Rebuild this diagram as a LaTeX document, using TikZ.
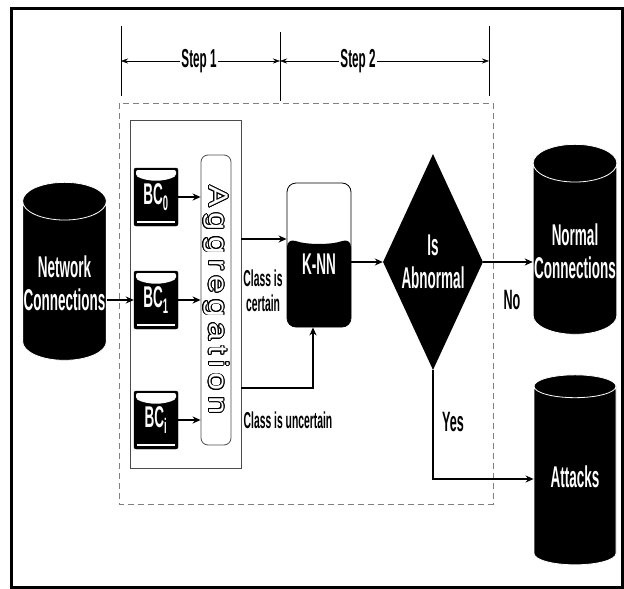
\documentclass[tikz,border=0pt]{standalone}
\usepackage{fontspec}
\setmainfont{Liberation Sans}[FakeStretch=0.45]
\newfontfamily\aggfont{Liberation Sans}[FakeStretch=1.2,LetterSpace=20]
\usepackage{contour}
\contourlength{0.8pt}
\usetikzlibrary{shapes.geometric,positioning,arrows.meta}

\begin{document}
\begin{tikzpicture}[x=1pt,y=-1pt,>={Stealth[length=7pt,width=5pt]},
      lbl/.style={font=\bfseries\fontsize{23}{25}\selectfont,align=center,inner sep=1pt},
      big/.style={font=\bfseries\fontsize{28}{32}\selectfont,inner sep=1pt},
      flow/.style={-{Stealth[length=8pt,width=7pt]},line width=2.2pt},
      dbase/.style={cylinder,shape border rotate=90,aspect=0.45,draw=white,thick,
        fill=black,text=white,font=\bfseries\fontsize{30}{33}\selectfont,align=center,
        inner sep=1pt,minimum width=82,minimum height=190},
      bcbox/.style={draw,fill=black,text=white,big,font=\bfseries\fontsize{30}{32}\selectfont,
        rounded corners=2pt,minimum width=44,minimum height=58,
        path picture={
          \fill[white] ([shift={(2,2)}]path picture bounding box.north west) rectangle
            ([shift={(-2,8)}]path picture bounding box.north east);
          \fill[white] ([shift={(2,8)}]path picture bounding box.north west)
            .. controls +(12,6) and +(-12,6) .. ([shift={(-2,8)}]path picture bounding box.north east) -- cycle;
          \draw[white,line width=1.2pt] ([shift={(3,-4)}]path picture bounding box.south west) --
            ([shift={(-3,-4)}]path picture bounding box.south east);}},
      aggbox/.style={draw=black!70,thick,rounded corners=7pt,minimum width=30,minimum height=290,inner sep=0pt},
      knnbox/.style={draw,thick,rounded corners=9pt,text=white,big,font=\bfseries\fontsize{30}{32}\selectfont,
        minimum width=64,minimum height=144,
        path picture={
          \fill[black] ([shift={(0,55)}]path picture bounding box.north west)
            .. controls +(20,7) and +(-20,7) .. ([shift={(0,55)}]path picture bounding box.north east)
            -- (path picture bounding box.south east) -- (path picture bounding box.south west) -- cycle;}},
      decide/.style={diamond,fill=black,text=white,big,font=\bfseries\fontsize{30}{33}\selectfont,
        align=center,aspect=0.46,inner sep=0pt,minimum width=100,minimum height=216}]

  \useasboundingbox (0,0) rectangle (624,589);
  \draw[line width=3pt] (11,8) rectangle (622,587);

  % steps
  \coordinate (s1) at (121,26);
  \coordinate (s2) at (280,32);
  \coordinate (s3) at (489,26);
  \draw[thick] (s1) -- ++(0,70) (s2) -- ++(0,69) (s3) -- ++(0,70);
  \node[big,font=\bfseries\fontsize{26}{28}\selectfont] (st1) at (199,61) {Step 1};
  \node[big,font=\bfseries\fontsize{26}{28}\selectfont] (st2) at (358,61) {Step 2};
  \draw[->] (st1) -- (st1 -| s1);
  \draw[->] (st1) -- (st1 -| s2);
  \draw[->] (st2) -- (st2 -| s2);
  \draw[->] (st2) -- (st2 -| s3);
  \draw[gray,thick,dash pattern=on 6pt off 4pt] (119,103) rectangle (493,504);

  % step 1
  \node[draw=black!70,thick,minimum width=111,minimum height=348] (step1box) at (185.5,294) {};
  \node[bcbox] (bc0) at (156,197) {BC\textsubscript{0}};
  \node[bcbox] (bc1) at (156,300) {BC\textsubscript{1}};
  \node[bcbox] (bci) at (156,420) {BC\textsubscript{i}};
  \node[aggbox] (agg) at (216,300) {\rotatebox{-90}{\aggfont\fontsize{27}{27}\selectfont\contour{black}{\textcolor{white}{Aggregation}}}};

  % step 2
  \node[knnbox] (knn) at (319,255) {\raisebox{-9pt}[\height][\depth]{K-NN}};
  \node[decide] (abn) at (433,262) {Is\\Abnormal};

  % data
  \node[dbase,minimum height=178] (net) at (64.5,283) {Network\\Connections};
  \node[dbase] (normal) at (575,251) {Normal\\Connections};
  \node[dbase] (att) at (575,477) {Attacks};

  % labels
  \node[lbl] (certain) at (263,291) {Class is\\certain};
  \node[lbl] (uncertain) at (288,420) {Class is uncertain};
  \node[big] (no) at (512,300) {No};
  \node[big] (yes) at (453,422) {Yes};

  % connections
  \coordinate (cert) at (step1box.east |- 0,239);
  \coordinate (uncert) at (step1box.east |- 0,388);
  \coordinate (yesend) at (att.west |- 0,479);
  \draw[flow] (bc1.west -| net.east) -- (bc1.west);
  \foreach \b in {bc0,bc1,bci}
    \draw[flow] (\b.east) -- (\b.east -| agg.west);
  \draw[flow] (cert) -- (cert -| knn.west);
  \draw[flow] (uncert) -| ([xshift=-6pt]knn.south);
  \draw[flow] (abn.west -| knn.east) -- (abn.west);
  \draw[flow] (abn.east) -- (abn.east -| normal.west);
  \draw[flow] (abn.south) |- (yesend);
\end{tikzpicture}
\end{document}
